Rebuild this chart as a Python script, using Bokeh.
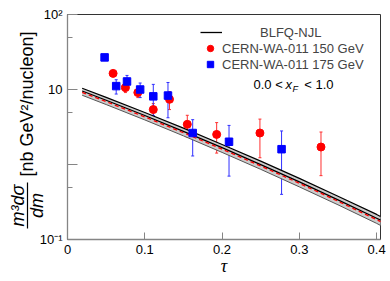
import math
from bokeh.plotting import figure
from bokeh.models import (Range1d, FixedTicker, Legend, LegendItem, Label, Whisker,
                          TeeHead, ColumnDataSource, BoxAnnotation)
from bokeh.embed import file_html
from bokeh.resources import INLINE

# ---------------- data ----------------
# model band (BLFQ-NJL)
tau_model = [0.019, 0.05, 0.1, 0.15, 0.2, 0.25, 0.3, 0.35, 0.4, 0.405]
model_black = [9.55, 7.19, 4.50, 2.77, 1.68, 0.998, 0.586, 0.338, 0.192, 0.181]
model_red = [9.14, 6.89, 4.31, 2.65, 1.60, 0.956, 0.561, 0.324, 0.184, 0.173]
model_upper = [10.40, 7.86, 4.93, 3.05, 1.85, 1.108, 0.653, 0.378, 0.216, 0.203]
model_lower = [8.38, 6.30, 3.93, 2.41, 1.45, 0.862, 0.503, 0.290, 0.164, 0.154]

# CERN-WA-011 150 GeV
tau_150 = [0.059, 0.075, 0.091, 0.111, 0.132, 0.155, 0.193, 0.249, 0.328]
val_150 = [16.4, 10.6, 9.1, 5.4, 7.4, 3.43, 2.52, 2.63, 1.71]
err_150 = [1.5, 1.5, 1.3, 1.1, 2.0, 1.1, 1.1, 1.4, 1.0]

# CERN-WA-011 175 GeV
tau_175 = [0.048, 0.063, 0.077, 0.094, 0.111, 0.130, 0.162, 0.209, 0.277]
val_175 = [26.8, 11.1, 12.8, 10.0, 8.1, 8.3, 2.63, 2.01, 1.60]
err_175 = [1.5, 2.4, 2.6, 2.2, 3.6, 4.1, 1.33, 1.31, 1.2]

x_ticks = [0, 0.1, 0.2, 0.3, 0.4]
x_tick_labels = ["0", "0.1", "0.2", "0.3", "0.4"]
x_max = 0.405
y_ticks = [0.1, 1, 10, 100]
y_minor_ticks = [0.5, 5, 50]
y_tick_labels = ["10\u207b\u00b9", "", "10", "10\u00b2"]

FONT = "Liberation Sans"

# ---------------- layout ----------------
W, H = 388, 278
AX_L, AX_R, AX_T, AX_B = 67, 380, 14, 239   # plot box in page pixels
xscale = (AX_R - AX_L) / (x_max - x_ticks[0])
x_start = x_ticks[0] - AX_L / xscale
x_end = x_start + W / xscale
dec_px = (AX_B - AX_T) / (math.log10(y_ticks[-1]) - math.log10(y_ticks[0]))
y_end = 10 ** (math.log10(y_ticks[-1]) + AX_T / dec_px)
y_start = 10 ** (math.log10(y_ticks[0]) - (H - AX_B) / dec_px)

p = figure(width=W, height=H, y_axis_type="log",
           x_range=Range1d(x_start, x_end), y_range=Range1d(y_start, y_end),
           output_backend="svg", toolbar_location=None,
           min_border_left=0, min_border_right=0, min_border_top=0, min_border_bottom=0)
p.grid.visible = False
p.outline_line_color = None
p.background_fill_color = "white"
p.border_fill_color = "white"

# plot box (top/right dark border)
p.quad(left=x_ticks[0], right=x_max, bottom=y_ticks[0], top=y_ticks[-1],
       fill_alpha=0, line_color="#333333", line_width=1)

# axes
p.xaxis.ticker = FixedTicker(ticks=x_ticks)
p.xaxis.major_label_overrides = dict(zip(x_ticks, x_tick_labels))
p.xaxis.fixed_location = y_ticks[0]
p.xaxis.bounds = (x_ticks[0], x_max)
p.yaxis.ticker = FixedTicker(ticks=y_ticks, minor_ticks=y_minor_ticks)
p.yaxis.major_label_overrides = dict(zip(y_ticks, y_tick_labels))
p.yaxis.fixed_location = x_ticks[0]
p.yaxis.bounds = (y_ticks[0], y_ticks[-1])
for ax in (p.xaxis[0], p.yaxis[0]):
    ax.axis_line_color = "#858585"
    ax.axis_line_width = 1.3
    ax.major_tick_line_color = "#858585"
    ax.minor_tick_line_color = "#858585"
    ax.major_tick_out = 0
    ax.minor_tick_out = 0
    ax.major_label_text_font = FONT
    ax.major_label_text_font_size = "13px"
    ax.major_label_text_color = "black"
    ax.major_label_standoff = 5
p.xaxis.major_tick_in = 7
p.xaxis.minor_tick_in = 0
p.yaxis.major_tick_in = 10
p.yaxis.minor_tick_in = 5

# model band
p.varea(x=tau_model, y1=model_lower, y2=model_upper, fill_color="#cccccc")
p.line(tau_model, model_upper, line_color="black", line_width=1.2)
p.line(tau_model, model_lower, line_color="#555555", line_width=1.0)
r_line = p.line(tau_model, model_black, line_color="black", line_width=1.3)
p.line(tau_model, model_red, line_color="red", line_width=1.3, line_dash="4 3")

# data
src150 = ColumnDataSource(dict(x=tau_150, y=val_150,
                               lo=[v - e for v, e in zip(val_150, err_150)],
                               hi=[v + e for v, e in zip(val_150, err_150)]))
src175 = ColumnDataSource(dict(x=tau_175, y=val_175,
                               lo=[v - e for v, e in zip(val_175, err_175)],
                               hi=[v + e for v, e in zip(val_175, err_175)]))
ec150 = "#ff3030"
ec175 = "#3030ff"
p.add_layout(Whisker(source=src150, base="x", lower="lo", upper="hi", dimension="height",
                     line_color=ec150, line_width=1,
                     upper_head=TeeHead(size=3, line_color=ec150, line_width=1),
                     lower_head=TeeHead(size=3, line_color=ec150, line_width=1)))
r_red = p.scatter("x", "y", source=src150, marker="circle", size=8,
                  fill_color="red", line_color="red")
p.add_layout(Whisker(source=src175, base="x", lower="lo", upper="hi", dimension="height",
                     line_color=ec175, line_width=1,
                     upper_head=TeeHead(size=3, line_color=ec175, line_width=1),
                     lower_head=TeeHead(size=3, line_color=ec175, line_width=1)))
r_blue = p.scatter("x", "y", source=src175, marker="square", size=7.5,
                   fill_color="blue", line_color="blue")

# legends (location in px from the canvas' bottom-left)
common = dict(padding=0, margin=0, spacing=0, border_line_alpha=0, background_fill_alpha=0,
              label_text_font=FONT, label_text_font_size="13px", glyph_height=16, label_height=16)
leg1 = Legend(items=[LegendItem(label="BLFQ-NJL", renderers=[r_line])],
              location=(200, H - 40), glyph_width=22, label_standoff=38, **common)
leg2 = Legend(items=[LegendItem(label="CERN-WA-011 150 GeV", renderers=[r_red]),
                     LegendItem(label="CERN-WA-011 175 GeV", renderers=[r_blue])],
              location=(200, H - 72), glyph_width=20, label_standoff=2, **common)
p.add_layout(leg1)
p.add_layout(leg2)

def lab(x, y, text, size="13px", style="normal", align="left", baseline="alphabetic",
        angle=0.0, font=FONT):
    # x, y given in page pixels from the top-left
    p.add_layout(Label(x=x, y=H - y, x_units="screen", y_units="screen", text=text,
                       text_font=font, text_font_size=size, text_font_style=style,
                       text_align=align, text_baseline=baseline, angle=angle,
                       text_color="black"))

# 0.0 < x_F < 1.0
lab(253, 84, "0.0 <")
lab(285, 84, "x", style="italic")
lab(292, 88, "F", size="9px", style="italic")
lab(333, 84, "< 1.0", align="right")

# x axis label
lab(223.5, 265, "\u03c4", size="18px", style="italic", align="center", baseline="middle",
    font="Liberation Serif")

# y axis label
lab(26, 103.5, "[nb GeV\u00b2/nucleon]", size="18px", align="center", baseline="middle",
    angle=math.pi / 2)
lab(17, 205, "m\u00b3d\u03c3", size="18px", style="italic", align="center", baseline="middle",
    angle=math.pi / 2)
lab(36, 205, "dm", size="18px", style="italic", align="center", baseline="middle",
    angle=math.pi / 2)
p.add_layout(BoxAnnotation(left=26.4, right=27.6, bottom=H - 228, top=H - 182,
                           left_units="screen", right_units="screen",
                           bottom_units="screen", top_units="screen",
                           fill_color="black", fill_alpha=1, line_alpha=0))

open("out.html", "w").write(file_html(p, INLINE))
